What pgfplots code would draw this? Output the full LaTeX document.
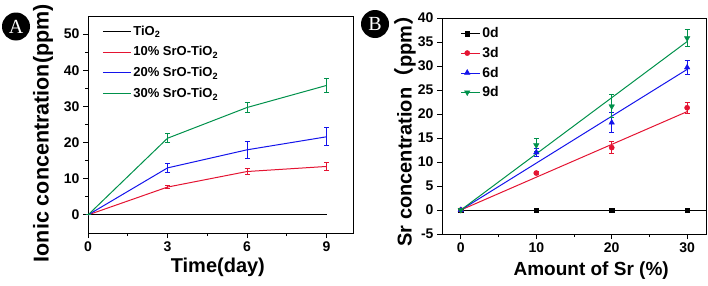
\documentclass[border=0pt]{standalone}
\usepackage{pgfplots}
\pgfplotsset{compat=1.18}
\usepackage{fontspec}
\setmainfont{Liberation Sans}
\newfontfamily\seriffont{Liberation Serif}
\newfontfamily\cjk{Noto Sans CJK SC}
\definecolor{myred}{RGB}{228,20,50}
\definecolor{myblue}{RGB}{20,20,235}
\definecolor{mygreen}{RGB}{0,145,75}
\begin{document}
\begin{tikzpicture}
\useasboundingbox (0pt,0pt) rectangle (708pt,285pt);
\pgfplotsset{every axis/.append style={
  scale only axis,
  axis line style={line width=1pt},
  tick style={line width=0.9pt, black},
  tick align=outside,
  major tick length=5pt, minor tick length=3pt,
  xtick pos=bottom, ytick pos=left,
  tick label style={font=\bfseries\fontsize{14}{14}\selectfont},
  /pgf/number format/assume math mode=true,
  clip=false,
}}
% ---------- Panel A ----------
\begin{axis}[
  at={(88pt,52pt)}, anchor=south west,
  width=265pt, height=217pt,
  xmin=0, xmax=10, ymin=-5, ymax=55,
  xtick={0,3,6,9}, minor xtick={1.5,4.5,7.5},
  ytick={0,10,20,30,40,50}, minor ytick={5,15,25,35,45},
  xlabel={\bfseries\fontsize{20}{20}\selectfont Time(day)},
  xlabel style={at={(axis description cs:0.49,-0.16)}, anchor=center},
  ylabel={\bfseries\fontsize{21.5}{21.5}\selectfont Ionic concentration(ppm)},
  ylabel style={at={(axis description cs:-0.17,0.46)}, anchor=center},
  legend style={draw=none, fill=none, at={(axis description cs:0.042,0.975)}, anchor=north west,
    font=\bfseries\fontsize{13}{15}\selectfont, row sep=6pt},
  legend cell align=left,
  legend image code/.code={\draw[#1] (0pt,0pt) -- (28pt,0pt);},
]
\addplot[black, line width=1pt] coordinates {(0,0) (3,0) (6,0) (9,0)};
\addlegendentry{TiO\textsubscript{2}}
\addplot[myred, line width=1pt, error bars/.cd, y dir=both, y explicit,
  error bar style={line width=1pt}, error mark options={rotate=90, mark size=2.5pt, line width=1pt}]
  coordinates {(0,0) +- (0,0) (3,7.7) +- (0,0.35) (6,12) +- (0,0.9) (9,13.4) +- (0,1.2)};
\addlegendentry{10\% SrO-TiO\textsubscript{2}}
\addplot[myblue, line width=1pt, error bars/.cd, y dir=both, y explicit,
  error bar style={line width=1pt}, error mark options={rotate=90, mark size=2.5pt, line width=1pt}]
  coordinates {(0,0) +- (0,0) (3,13) +- (0,1.3) (6,18) +- (0,2.3) (9,21.6) +- (0,2.5)};
\addlegendentry{20\% SrO-TiO\textsubscript{2}}
\addplot[mygreen, line width=1pt, error bars/.cd, y dir=both, y explicit,
  error bar style={line width=1pt}, error mark options={rotate=90, mark size=2.5pt, line width=1pt}]
  coordinates {(0,0) +- (0,0) (3,21.2) +- (0,1.2) (6,29.7) +- (0,1.5) (9,35.8) +- (0,1.9)};
\addlegendentry{30\% SrO-TiO\textsubscript{2}}
\end{axis}
% ---------- Panel B ----------
\begin{axis}[
  at={(442pt,51pt)}, anchor=south west,
  width=264pt, height=216pt,
  xmin=-2.5, xmax=32.5, ymin=-5, ymax=40,
  xtick={0,10,20,30}, minor xtick={5,15,25},
  ytick={-5,0,5,10,15,20,25,30,35,40},
  xlabel={\bfseries\fontsize{19}{19}\selectfont Amount of Sr (\%)},
  xlabel style={at={(axis description cs:0.565,-0.17)}, anchor=center},
  ylabel={\bfseries\fontsize{20}{20}\selectfont Sr concentration{\cjk （}ppm{\cjk ）}},
  ylabel style={at={(axis description cs:-0.14,0.5)}, anchor=center},
  legend style={draw=none, fill=none, at={(axis description cs:0.06,0.975)}, anchor=north west,
    font=\bfseries\fontsize{14}{16}\selectfont, row sep=4pt},
  legend cell align=left,
  legend image code/.code={\path (0pt,0pt) -- (19pt,0pt); \draw[#1] plot coordinates {(6pt,0pt)};},
]
\addplot[black, line width=1pt, forget plot] coordinates {(0,0) (32.5,0)};
\addplot[myred, line width=1pt, forget plot] coordinates {(0,0) (30,20.5)};
\addplot[myblue, line width=1pt, forget plot] coordinates {(0,0) (30,29.3)};
\addplot[mygreen, line width=1pt, forget plot] coordinates {(0,0) (30,35.1)};
\addplot[black, only marks, mark=square*, mark size=2.3pt]
  coordinates {(0,0) (10,0) (20,0) (30,0)};
\addlegendentry{0d}
\addplot[myred, only marks, mark=*, mark size=2.6pt, error bars/.cd, y dir=both, y explicit,
  error bar style={line width=1pt}, error mark options={rotate=90, mark size=2.5pt, line width=1pt}]
  coordinates {(0,0) +- (0,0) (10,7.7) +- (0,0.4) (20,13) +- (0,1.2) (30,21.3) +- (0,1.1)};
\addlegendentry{3d}
\addplot[myblue, only marks, mark=triangle*, mark size=3.2pt, error bars/.cd, y dir=both, y explicit,
  error bar style={line width=1pt}, error mark options={rotate=90, mark size=2.5pt, line width=1pt}]
  coordinates {(0,0) +- (0,0) (10,12) +- (0,0.8) (20,18.2) +- (0,2.1) (30,29.7) +- (0,1.55)};
\addlegendentry{6d}
\addplot[mygreen, only marks, mark=triangle*, mark options={rotate=180}, mark size=3.2pt, error bars/.cd, y dir=both, y explicit,
  error bar style={line width=1pt}, error mark options={rotate=90, mark size=2.5pt, line width=1pt}]
  coordinates {(0,0) +- (0,0) (10,13.5) +- (0,1.3) (20,21.6) +- (0,2.4) (30,35.8) +- (0,1.8)};
\addlegendentry{9d}
\end{axis}
% panel letters
\node[circle, fill=black, text=white, minimum size=28pt, inner sep=0pt,
  font=\seriffont\fontsize{20}{20}\selectfont] at (16pt,258.5pt) {A};
\node[circle, fill=black, text=white, minimum size=28pt, inner sep=0pt,
  font=\seriffont\fontsize{20}{20}\selectfont] at (375pt,261pt) {B};
\end{tikzpicture}
\end{document}
